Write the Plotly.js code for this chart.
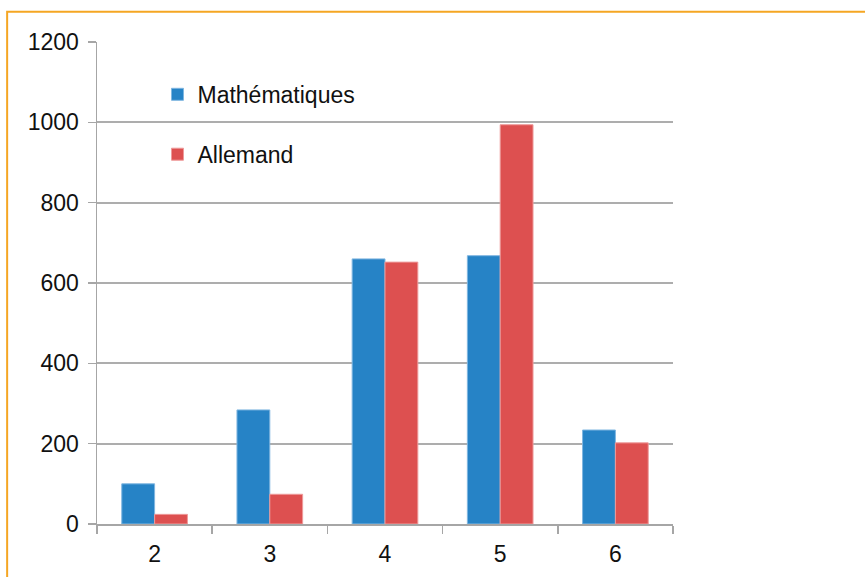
<!DOCTYPE html>
<html>
<head>
<meta charset="utf-8">
<script src="https://cdn.plot.ly/plotly-3.0.1.min.js"></script>
<style>html,body{margin:0;padding:0;background:#fff;}#chart{width:865px;height:577px;}</style>
</head>
<body>
<div id="chart"></div>
<script>
var categories = ["2", "3", "4", "5", "6"];
var mathValues = [100, 284, 660, 668, 234];
var allemandValues = [24, 74, 652, 994, 202];
var yTicks = [0, 200, 400, 600, 800, 1000, 1200];

var traces = [
  {type: "bar", name: "Mathématiques", x: categories, y: mathValues, legendgroup: "a",
   marker: {color: "#2683c6", line: {color: "#7fb6e0", width: 1}}},
  {type: "bar", name: "Allemand", x: categories, y: allemandValues, legendgroup: "b",
   marker: {color: "#dd5050", line: {color: "#ee9a9a", width: 1}}}
];

var layout = {
  width: 865, height: 577,
  margin: {l: 97, r: 192, t: 42, b: 53},
  paper_bgcolor: "#fff", plot_bgcolor: "#fff",
  font: {family: "Liberation Sans, Arial, sans-serif", color: "#111", size: 23},
  bargap: 0.43, bargroupgap: 0,
  showlegend: true,
  legend: {x: 0.105, y: 0.936, xanchor: "left", yanchor: "top", bgcolor: "rgba(0,0,0,0)",
    font: {size: 23}, traceorder: "grouped", tracegroupgap: 27, itemwidth: 30},
  xaxis: {type: "category", tickson: "boundaries", ticks: "outside", ticklen: 8, tickwidth: 1.5,
    tickcolor: "#a6a6a6", showline: true, linecolor: "#a6a6a6", linewidth: 1.5, showgrid: false,
    zeroline: false, fixedrange: true, ticklabelstandoff: 9, tickfont: {size: 23}},
  yaxis: {range: [0, 1200], tickvals: yTicks, ticktext: yTicks.map(String), ticks: "outside", ticklen: 8,
    tickwidth: 1.5, tickcolor: "#a6a6a6", showline: true, linecolor: "#a6a6a6", linewidth: 1.5,
    showgrid: true, gridcolor: "#adadad", gridwidth: 1.7, zeroline: false, fixedrange: true,
    ticklabelstandoff: 4, tickfont: {size: 23}},
  shapes: [{type: "rect", xref: "paper", yref: "paper", x0: -0.156, x1: 1.5, y0: -0.2, y1: 1.063,
    line: {color: "#f5a623", width: 2}, fillcolor: "rgba(0,0,0,0)", layer: "below"}]
};

Plotly.newPlot("chart", traces, layout, {displayModeBar: false, staticPlot: true});
</script>
</body>
</html>
